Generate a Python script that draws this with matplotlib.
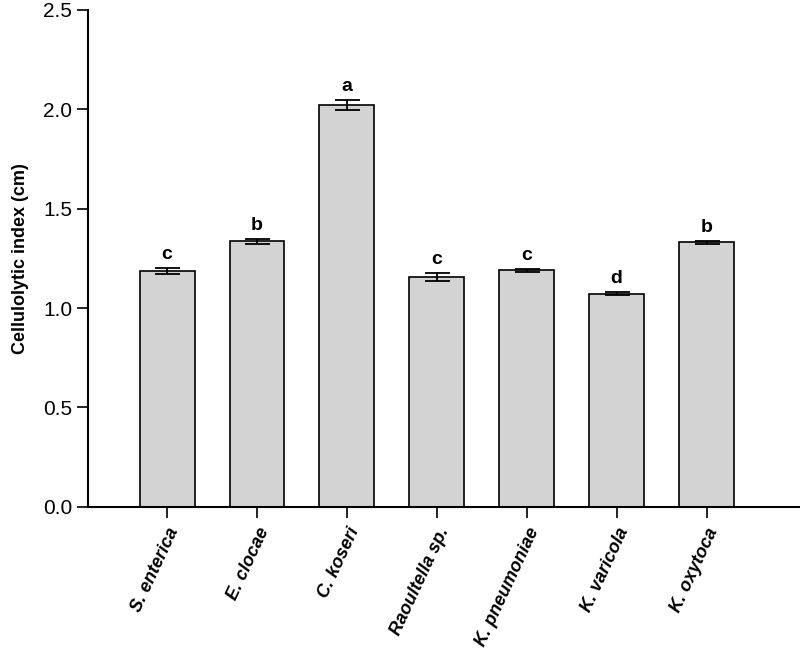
import matplotlib
matplotlib.use("Agg")
import matplotlib.pyplot as plt
import numpy as np

plt.rcParams['font.family'] = ['Liberation Sans Narrow', 'Liberation Sans', 'DejaVu Sans']

species = ["S. enterica", "E. clocae", "C. koseri", "Raoultella sp.",
           "K. pneumoniae", "K. varicola", "K. oxytoca"]
index_cm = [1.185, 1.335, 2.02, 1.155, 1.19, 1.072, 1.33]
err_cm = [0.015, 0.015, 0.025, 0.02, 0.008, 0.008, 0.008]
letters = ["c", "b", "a", "c", "c", "d", "b"]

fig = plt.figure(figsize=(8, 6.6), dpi=100)
ax = fig.add_axes([0.11, 0.232, 0.89, 0.753])

x = np.arange(len(species))
ax.bar(x, index_cm, width=0.61, color="#d3d3d3", edgecolor="black", linewidth=1.2)
ax.errorbar(x, index_cm, yerr=err_cm, fmt="none", ecolor="black",
            elinewidth=1.3, capsize=9, capthick=1.3)

for xi, v, e, l in zip(x, index_cm, err_cm, letters):
    ax.text(xi, v + e + 0.025, l, ha="center", va="bottom",
            fontsize=14, fontweight="bold", family="Liberation Sans")

ax.set_xlim(-0.88, 7.04)
ax.set_ylim(0, 2.5)
ax.set_yticks([0, 0.5, 1.0, 1.5, 2.0, 2.5])
ax.set_yticklabels(["0.0", "0.5", "1.0", "1.5", "2.0", "2.5"], fontsize=15)
ax.set_xticks(x)
ax.set_xticklabels(species, rotation=65, ha="right", rotation_mode="anchor",
                   fontsize=13, fontweight="bold", style="italic",
                   family="Liberation Sans")
ax.tick_params(direction="out", length=8, width=1.2)
ax.tick_params(axis="x", pad=5)
ax.set_ylabel("Cellulolytic index (cm)", fontsize=13, fontweight="bold",
              family="Liberation Sans", labelpad=10)

ax.spines["top"].set_visible(False)
ax.spines["right"].set_visible(False)
ax.spines["left"].set_linewidth(1.5)
ax.spines["bottom"].set_linewidth(1.5)

fig.savefig("out.png", dpi=100)
